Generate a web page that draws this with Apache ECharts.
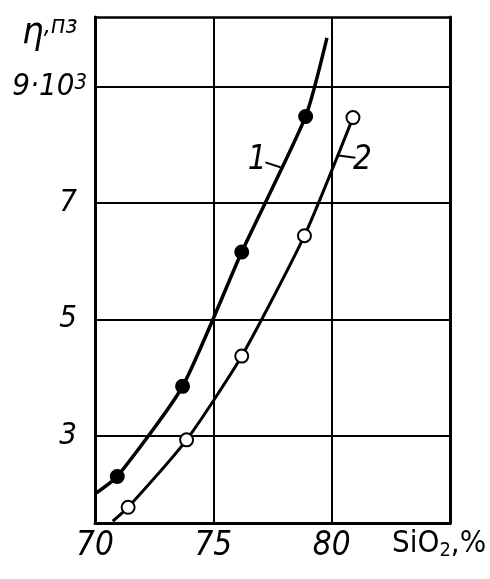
<!DOCTYPE html>
<html><head><meta charset="utf-8">
<script src="https://cdn.jsdelivr.net/npm/echarts@6/dist/echarts.min.js"></script>
<style>html,body{margin:0;padding:0;background:#fff}#c{width:490px;height:579px}</style>
</head><body><div id="c"></div>
<script>
// ---- data ----
const xTicks = [70, 75, 80];            // SiO2, %
const yTicks = [3, 5, 7, 9];            // viscosity, 10^3 poise
const curve1X = [70.0, 70.94, 73.7, 76.2, 78.9, 79.8];
const curve1Y = [2.0, 2.30, 3.85, 6.16, 8.49, 9.84];
const curve1Marked = [false, true, true, true, true, false];
const curve2X = [70.75, 71.4, 73.87, 76.2, 78.85, 80.9];
const curve2Y = [1.53, 1.77, 2.93, 4.37, 6.44, 8.47];
const curve2Marked = [false, true, true, true, true, true];
const curveNames = ['1', '2'];
const curveLabelAt = [[76.85, 7.74], [81.3, 7.74]];
const curveLeaders = [[[77.2, 7.70], [77.96, 7.60]], [[80.3, 7.82], [81.0, 7.78]]];

const FONT = "'DejaVu Sans Condensed','DejaVu Sans',sans-serif";

function pts(xs, ys, marked) {
  return xs.map((x, i) => ({ value: [x, ys[i]], symbol: marked[i] ? 'circle' : 'none' }));
}

const chart = echarts.init(document.getElementById('c'), null, { renderer: 'canvas' });
const axisLine = { show: true, onZero: false, lineStyle: { color: '#000', width: 3 } };
const splitLine = { show: true, lineStyle: { color: '#000', width: 2 } };

chart.setOption({
  backgroundColor: '#fff',
  animation: false,
  grid: { left: 95, right: 40, top: 17, bottom: 56, containLabel: false },
  xAxis: [{
    type: 'value', min: 70, max: 85, interval: 5,
    axisLine: axisLine, axisTick: { show: false }, splitLine: splitLine,
    axisLabel: {
      margin: 7, color: '#000', fontFamily: FONT, fontStyle: 'italic', fontSize: 33,
      formatter: v => (xTicks.indexOf(v) >= 0 ? String(v) : '')
    }
  }, {
    type: 'value', min: 70, max: 85, position: 'top',
    axisLine: { show: true, lineStyle: { color: '#000', width: 2.5 } },
    axisTick: { show: false }, axisLabel: { show: false }, splitLine: { show: false }
  }],
  yAxis: [{
    type: 'value', min: 1.5, max: 10.2,
    axisLine: axisLine,
    axisTick: { show: false, customValues: yTicks },
    splitLine: splitLine,
    axisLabel: {
      customValues: yTicks, margin: 8, color: '#000',
      formatter: v => (v === 9 ? '{a|9·10}{s|3}' : '{b|' + v + '}'),
      rich: {
        a: { fontFamily: FONT, fontStyle: 'italic', fontSize: 31, color: '#000', lineHeight: 30 },
        b: { fontFamily: FONT, fontStyle: 'italic', fontSize: 31, color: '#000', lineHeight: 30, padding: [0, 10, 0, 0] },
        s: { fontFamily: FONT, fontStyle: 'italic', fontSize: 22, color: '#000', verticalAlign: 'top' }
      }
    }
  }, {
    type: 'value', min: 1.5, max: 10.2, position: 'right',
    axisLine: { show: true, lineStyle: { color: '#000', width: 3 } },
    axisTick: { show: false }, axisLabel: { show: false }, splitLine: { show: false }
  }],
  graphic: [{
    type: 'text', left: 22, top: 14,
    style: {
      text: '{e|η}{p|,пз}',
      rich: {
        e: { fontFamily: FONT, fontStyle: 'italic', fontSize: 38, fill: '#000', lineHeight: 38 },
        p: { fontFamily: FONT, fontStyle: 'italic', fontSize: 25, fill: '#000', verticalAlign: 'top' }
      }
    }
  }, {
    type: 'text', left: 392, top: 528,
    style: {
      text: '{a|SiO}{b|2}{a|,%}',
      rich: {
        a: { fontFamily: FONT, fontSize: 31, fill: '#000', lineHeight: 34 },
        b: { fontFamily: FONT, fontSize: 20, fill: '#000', verticalAlign: 'bottom' }
      }
    }
  }],
  series: [
    [curve1X, curve1Y, curve1Marked, '#000'],
    [curve2X, curve2Y, curve2Marked, '#fff']
  ].map((c, k) => ({
    type: 'line', name: curveNames[k],
    data: pts(c[0], c[1], c[2]),
    smooth: 0.2, showAllSymbol: true, symbolSize: 13,
    lineStyle: { color: '#000', width: k === 0 ? 3.5 : 3 },
    itemStyle: { color: c[3], borderColor: '#000', borderWidth: 2 },
    emphasis: { disabled: true },
    markPoint: {
      symbol: 'circle', symbolSize: 1, itemStyle: { color: 'transparent' },
      label: { show: true, position: 'inside', color: '#000', fontFamily: FONT, fontStyle: 'italic', fontSize: 33, formatter: curveNames[k] },
      data: [{ coord: curveLabelAt[k] }]
    },
    markLine: {
      symbol: 'none', silent: true, label: { show: false },
      lineStyle: { color: '#000', width: 2, type: 'solid' },
      data: [[{ coord: curveLeaders[k][0] }, { coord: curveLeaders[k][1] }]]
    }
  }))
});
</script></body></html>
